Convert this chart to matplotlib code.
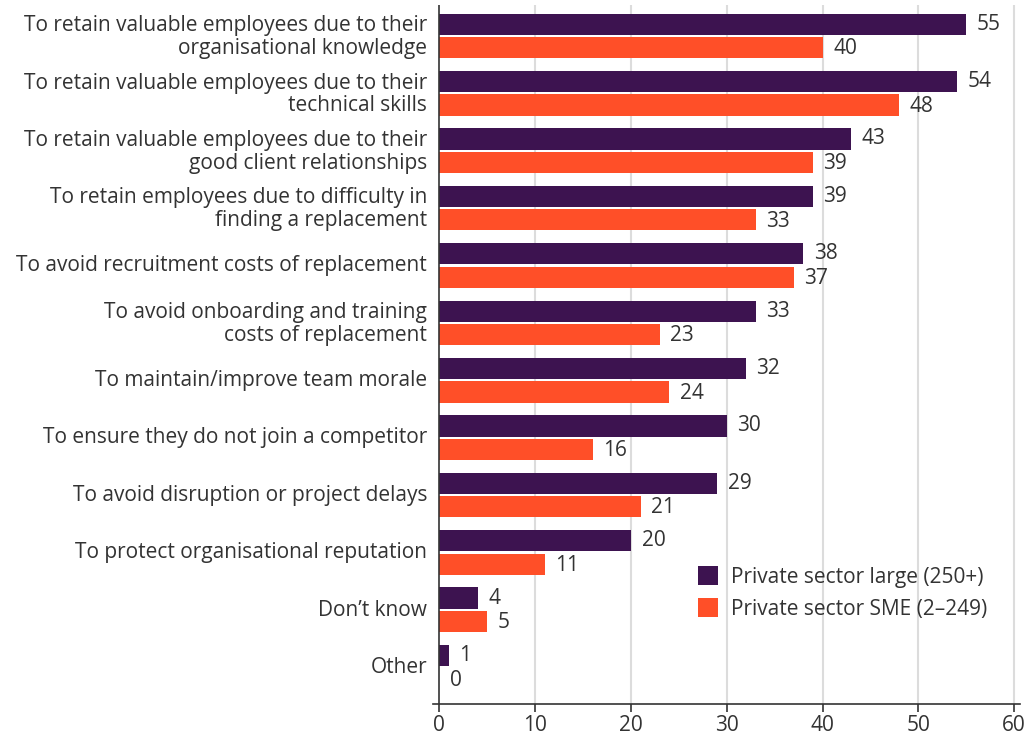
import matplotlib.pyplot as plt
import numpy as np

categories = [
    "To retain valuable employees due to their\norganisational knowledge",
    "To retain valuable employees due to their\ntechnical skills",
    "To retain valuable employees due to their\ngood client relationships",
    "To retain employees due to difficulty in\nfinding a replacement",
    "To avoid recruitment costs of replacement",
    "To avoid onboarding and training\ncosts of replacement",
    "To maintain/improve team morale",
    "To ensure they do not join a competitor",
    "To avoid disruption or project delays",
    "To protect organisational reputation",
    "Don\u2019t know",
    "Other",
]
large = [55, 54, 43, 39, 38, 33, 32, 30, 29, 20, 4, 1]
sme = [40, 48, 39, 33, 37, 23, 24, 16, 21, 11, 5, 0]
series_names = ["Private sector large (250+)", "Private sector SME (2\u2013249)"]
x_ticks = [0, 10, 20, 30, 40, 50, 60]

PURPLE = "#3D1350"
ORANGE = "#FF4F28"
TEXT = "#333333"

plt.rcParams["font.family"] = ["Open Sans", "DejaVu Sans"]

fig = plt.figure(figsize=(10.26, 7.39), dpi=100)
ax = fig.add_axes([0.4217, 0.0474, 0.5724, 0.9459])

y = np.arange(len(categories))
h = 0.37
gap = 0.02
FS = 15
ax.barh(y - h / 2 - gap, large, height=h, color=PURPLE, label=series_names[0], zorder=3)
ax.barh(y + h / 2 + gap, sme, height=h, color=ORANGE, label=series_names[1], zorder=3)

for yi, v in zip(y, large):
    ax.text(v + 1.1, yi - h / 2 - gap, f"{v}", va="center", ha="left", fontsize=FS, color=TEXT)
for yi, v in zip(y, sme):
    ax.text(v + 1.1, yi + h / 2 + gap + 0.02, f"{v}", va="center", ha="left", fontsize=FS, color=TEXT)

ax.set_ylim(11.64, -0.54)
ax.set_xlim(-0.7, 60.6)
ax.set_yticks(y - 0.04)
ax.set_yticklabels(categories, fontsize=FS, color=TEXT, linespacing=1.12)
ax.tick_params(axis="y", length=0, pad=4)
ax.set_xticks(x_ticks)
ax.set_xticklabels([str(t) for t in x_ticks], fontsize=FS, color=TEXT)
ax.tick_params(axis="x", length=6, width=1.2, color="#333333", pad=2)

for t in x_ticks[1:]:
    ax.axvline(t, color="#dcdcdc", lw=1.5, zorder=1)
ax.axvline(0, color="#333333", lw=1.2, zorder=4)

for s in ["top", "right", "left"]:
    ax.spines[s].set_visible(False)
ax.spines["bottom"].set_color("#333333")
ax.spines["bottom"].set_linewidth(1.2)

leg = ax.legend(loc="upper left", bbox_to_anchor=(0.437, 0.209), frameon=False,
                fontsize=FS, handlelength=1.0, handleheight=1.0,
                handletextpad=0.6, labelspacing=0.5, borderaxespad=0)
for txt in leg.get_texts():
    txt.set_color(TEXT)

fig.savefig("out.png", dpi=100, facecolor="white")
